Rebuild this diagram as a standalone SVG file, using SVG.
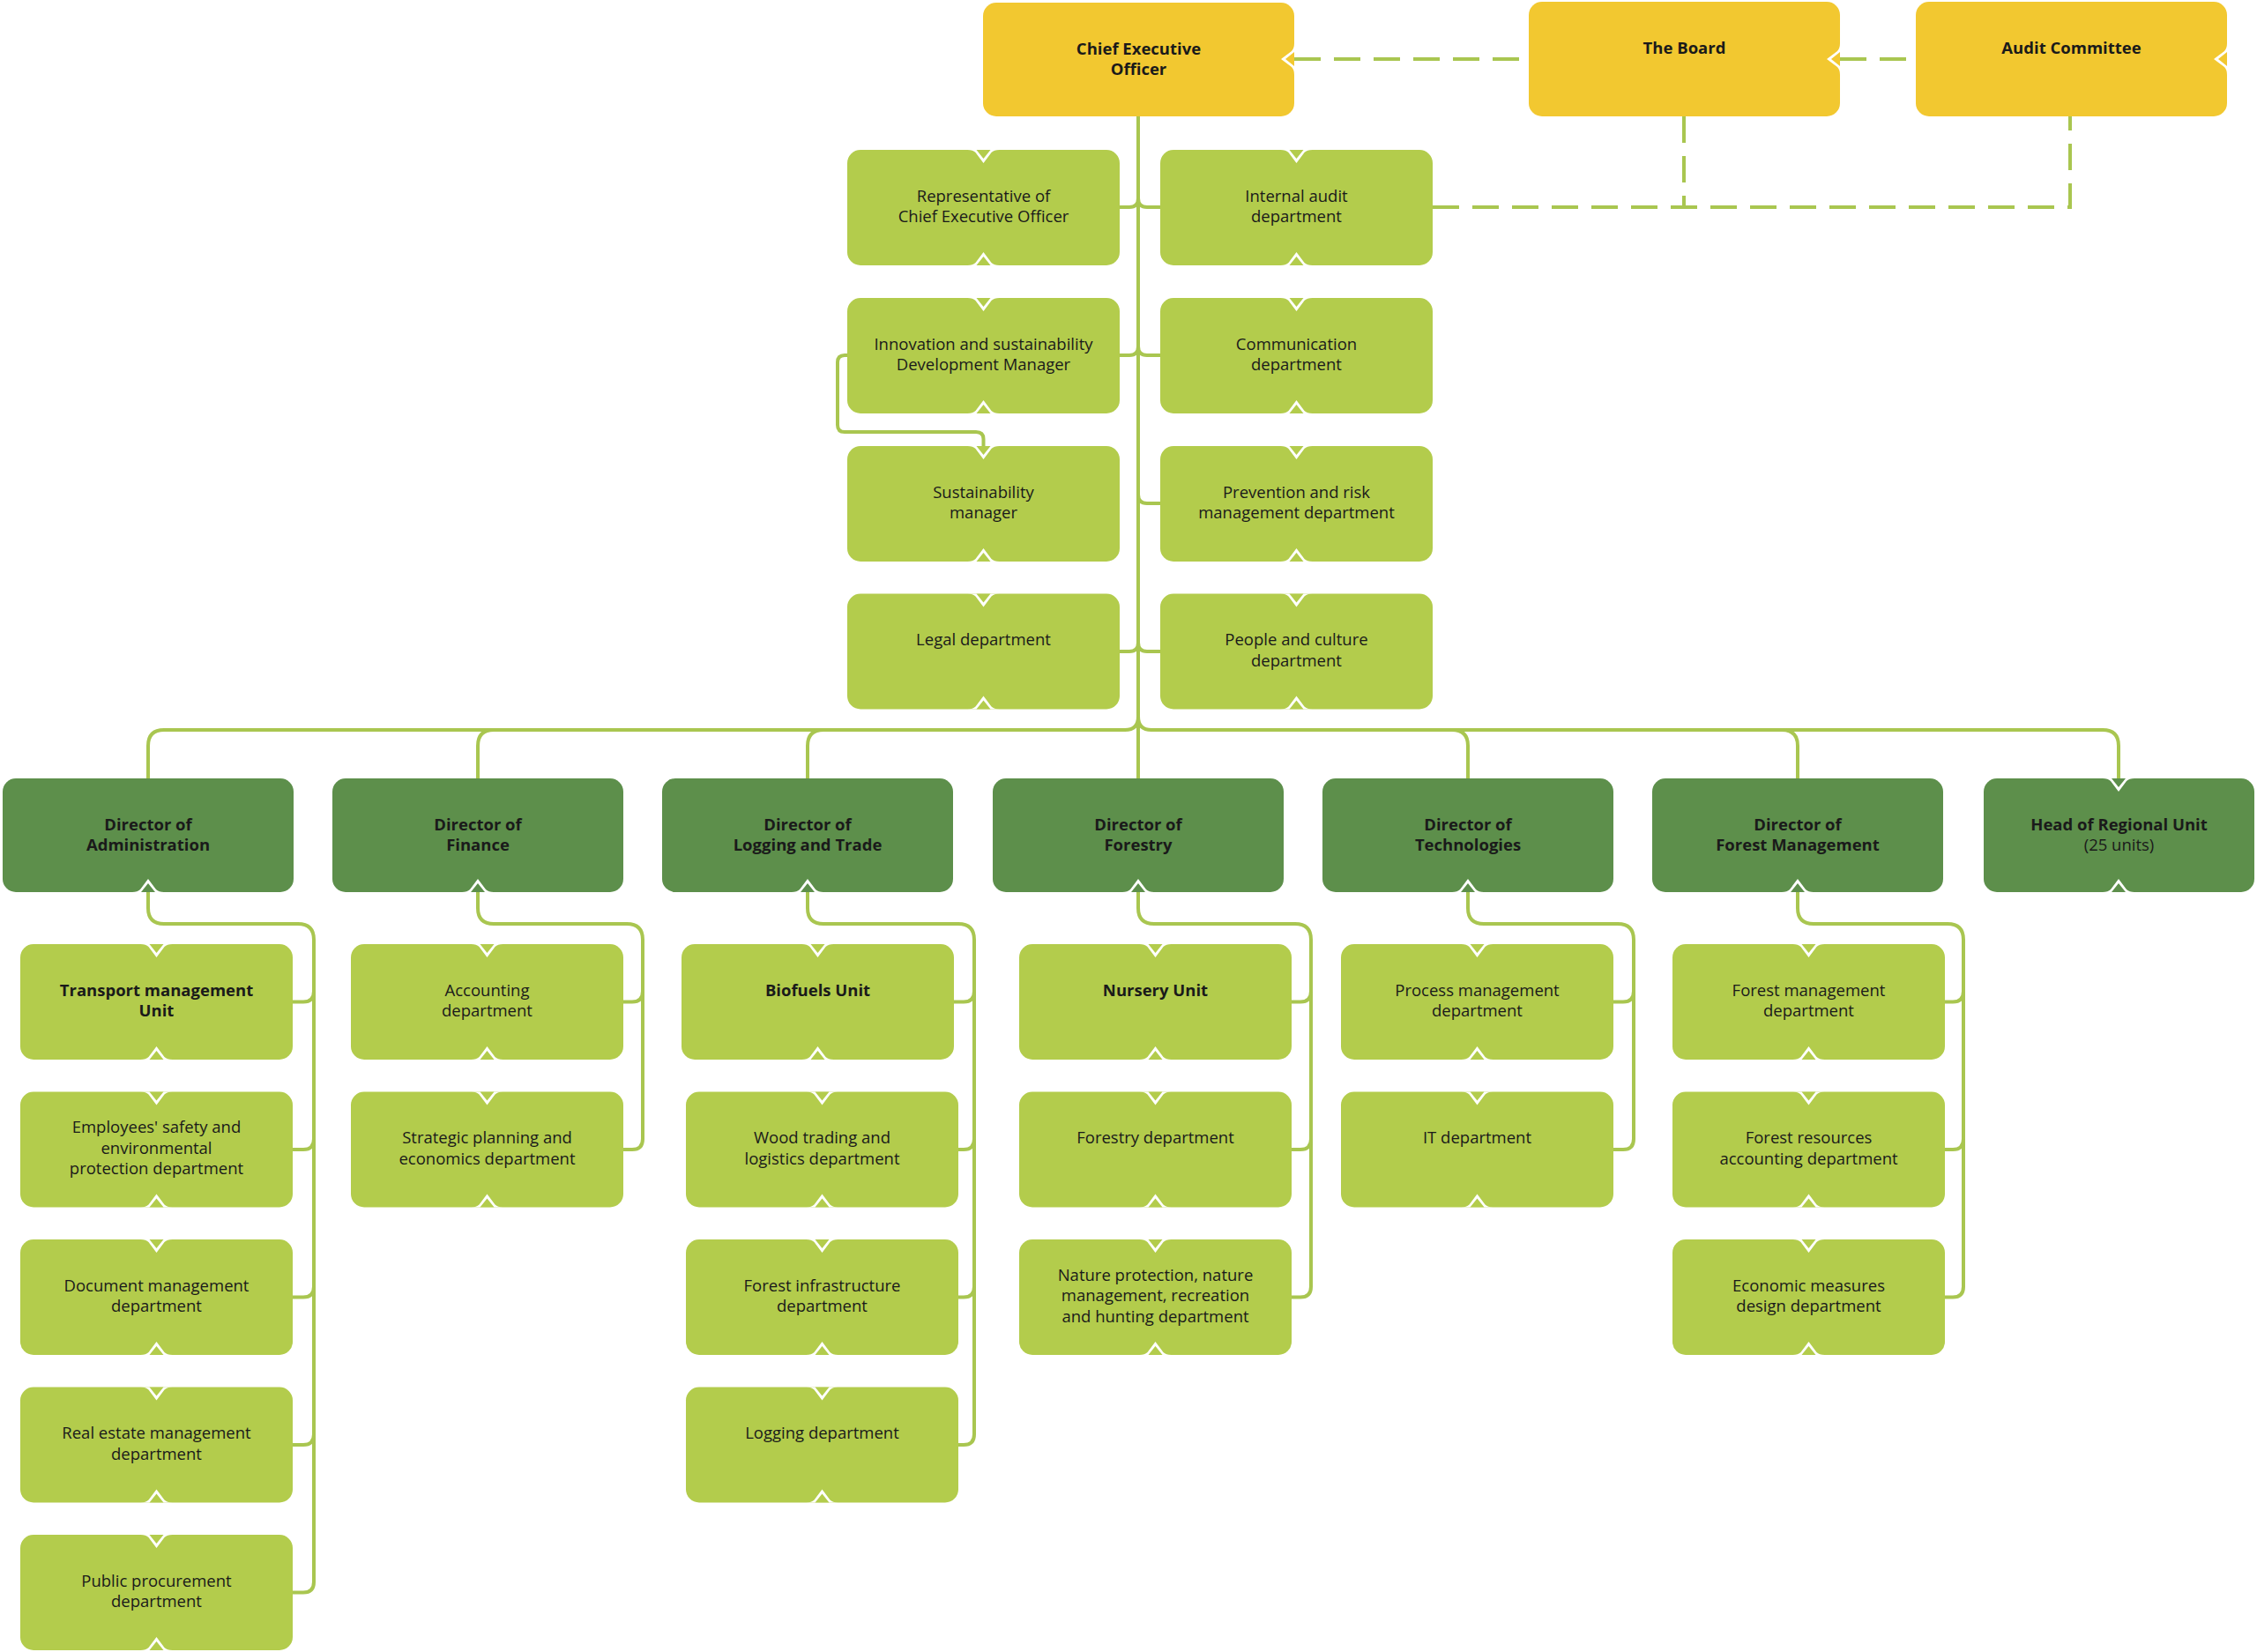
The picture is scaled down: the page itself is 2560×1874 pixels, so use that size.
<svg xmlns="http://www.w3.org/2000/svg" xmlns:xlink="http://www.w3.org/1999/xlink" width="2560" height="1874" viewBox="0 0 2560 1874">
<style>
.lg{fill:#B3CC4C}
.dg{fill:#5D8F4B}
.yl{fill:#F2C830}
.ulg{color:#B3CC4C}
.udg{color:#5D8F4B}
.uyl{color:#F2C830}
.cut{fill:#ffffff}
.c{fill:none;stroke:#A9C650;stroke-width:4;stroke-linejoin:round}
.d{fill:none;stroke:#A9C650;stroke-width:4;stroke-dasharray:30 15}
text{font-family:"Open Sans","Noto Sans",sans-serif;font-size:18.5px;fill:#1a1a1a;text-anchor:middle}
.b{font-weight:700}
</style>
<defs>
<g id="nT"><path class="cut" d="M-18,0 Q-12,0 -9,3 L0,15 L9,3 Q12,0 18,0 Z"/><path fill="currentColor" d="M-8,0 L8,0 L0,10 Z"/></g>
<g id="nB"><path class="cut" d="M-18,0 Q-12,0 -9,-3 L0,-15 L9,-3 Q12,0 18,0 Z"/><path fill="currentColor" d="M-8,0 L8,0 L0,-10 Z"/></g>
<g id="nR"><path class="cut" d="M0,-18 Q0,-12 -3,-9 L-15,0 L-3,9 Q0,12 0,18 Z"/><path fill="currentColor" d="M0,-8 L0,8 L-10,0 Z"/></g>
</defs>
<rect width="2560" height="1874" fill="#ffffff"/>

<g id="connectors">
<!-- dashed governance lines -->
<path class="d" d="M1468,67 H1734"/>
<path class="d" d="M2087,67 H2173"/>
<path class="d" d="M1625,235 H2348 V132"/>
<path class="d" d="M1910,132 V235"/>
<!-- CEO trunk -->
<path class="c" d="M1291,132 V883"/>
<!-- second level stubs -->
<path class="c" d="M1291,225 Q1291,235 1281,235 H1270"/>
<path class="c" d="M1291,225 Q1291,235 1301,235 H1316"/>
<path class="c" d="M1291,393 Q1291,403 1281,403 H1270"/>
<path class="c" d="M1291,393 Q1291,403 1301,403 H1316"/>
<path class="c" d="M1291,561 Q1291,571 1301,571 H1316"/>
<path class="c" d="M1291,729 Q1291,739 1281,739 H1270"/>
<path class="c" d="M1291,729 Q1291,739 1301,739 H1316"/>
<!-- innovation to sustainability -->
<path class="c" d="M961,403 H958 Q950,403 950,411 V482 Q950,490 958,490 H1107 Q1115.5,490 1115.5,498 V506"/>
<!-- bus to directors -->
<path class="c" d="M1291,813 Q1291,828 1276,828 H186 Q168,828 168,846 V883"/>
<path class="c" d="M560,828 Q542,828 542,846 V883"/>
<path class="c" d="M934,828 Q916,828 916,846 V883"/>
<path class="c" d="M1291,813 Q1291,828 1306,828 H2385 Q2403,828 2403,846 V883"/>
<path class="c" d="M1647,828 Q1665,828 1665,846 V883"/>
<path class="c" d="M2021,828 Q2039,828 2039,846 V883"/>
<!-- Administration -->
<path class="c" d="M168,1012 V1030 Q168,1048 186,1048 H338 Q356,1048 356,1066 V1794.5 Q356,1806.5 344,1806.5 H332"/>
<path class="c" d="M356,1124.5 Q356,1136.5 344,1136.5 H332"/>
<path class="c" d="M356,1292 Q356,1304 344,1304 H332"/>
<path class="c" d="M356,1459.5 Q356,1471.5 344,1471.5 H332"/>
<path class="c" d="M356,1627 Q356,1639 344,1639 H332"/>
<!-- Finance -->
<path class="c" d="M542,1012 V1030 Q542,1048 560,1048 H711 Q729,1048 729,1066 V1292 Q729,1304 717,1304 H707"/>
<path class="c" d="M729,1124.5 Q729,1136.5 717,1136.5 H707"/>
<!-- Logging and Trade -->
<path class="c" d="M916,1012 V1030 Q916,1048 934,1048 H1087 Q1105,1048 1105,1066 V1627 Q1105,1639 1093,1639 H1087"/>
<path class="c" d="M1105,1124.5 Q1105,1136.5 1093,1136.5 H1082"/>
<path class="c" d="M1105,1292 Q1105,1304 1093,1304 H1087"/>
<path class="c" d="M1105,1459.5 Q1105,1471.5 1093,1471.5 H1087"/>
<!-- Forestry -->
<path class="c" d="M1291,1012 V1030 Q1291,1048 1309,1048 H1469 Q1487,1048 1487,1066 V1459.5 Q1487,1471.5 1475,1471.5 H1465"/>
<path class="c" d="M1487,1124.5 Q1487,1136.5 1475,1136.5 H1465"/>
<path class="c" d="M1487,1292 Q1487,1304 1475,1304 H1465"/>
<!-- Technologies -->
<path class="c" d="M1665,1012 V1030 Q1665,1048 1683,1048 H1835 Q1853,1048 1853,1066 V1292 Q1853,1304 1841,1304 H1830"/>
<path class="c" d="M1853,1124.5 Q1853,1136.5 1841,1136.5 H1830"/>
<!-- Forest Management -->
<path class="c" d="M2039,1012 V1030 Q2039,1048 2057,1048 H2209 Q2227,1048 2227,1066 V1459.5 Q2227,1471.5 2215,1471.5 H2206"/>
<path class="c" d="M2227,1124.5 Q2227,1136.5 2215,1136.5 H2206"/>
<path class="c" d="M2227,1292 Q2227,1304 2215,1304 H2206"/>
</g>

<!-- top level -->
<g id="ceo"><rect class="yl" x="1115" y="3" width="353" height="129" rx="15"/><use href="#nR" x="1468" y="67" class="uyl"/>
<text class="b" x="1291.5" y="61.5">Chief Executive</text><text class="b" x="1291.5" y="85">Officer</text></g>
<g id="board"><rect class="yl" x="1734" y="2" width="353" height="130" rx="15"/><use href="#nR" x="2087" y="67" class="uyl"/>
<text class="b" x="1910.5" y="60.5">The Board</text></g>
<g id="audit-committee"><rect class="yl" x="2173" y="2" width="353" height="130" rx="15"/><use href="#nR" x="2526" y="67" class="uyl"/>
<text class="b" x="2349.5" y="60.5">Audit Committee</text></g>

<!-- second level -->
<g id="representative"><rect class="lg" x="961" y="170" width="309" height="131" rx="15"/><use href="#nT" x="1115.5" y="170" class="ulg"/><use href="#nB" x="1115.5" y="301" class="ulg"/>
<text x="1115.5" y="228.5">Representative of</text><text x="1115.5" y="252">Chief Executive Officer</text></g>
<g id="innovation"><rect class="lg" x="961" y="338" width="309" height="131" rx="15"/><use href="#nT" x="1115.5" y="338" class="ulg"/><use href="#nB" x="1115.5" y="469" class="ulg"/>
<text x="1115.5" y="396.5">Innovation and sustainability</text><text x="1115.5" y="420">Development Manager</text></g>
<g id="sustainability"><rect class="lg" x="961" y="506" width="309" height="131" rx="15"/><use href="#nT" x="1115.5" y="506" class="ulg"/><use href="#nB" x="1115.5" y="637" class="ulg"/>
<text x="1115.5" y="564.5">Sustainability</text><text x="1115.5" y="588">manager</text></g>
<g id="legal"><rect class="lg" x="961" y="673.5" width="309" height="131" rx="15"/><use href="#nT" x="1115.5" y="673.5" class="ulg"/><use href="#nB" x="1115.5" y="804.5" class="ulg"/>
<text x="1115.5" y="732">Legal department</text></g>
<g id="internal-audit"><rect class="lg" x="1316" y="170" width="309" height="131" rx="15"/><use href="#nT" x="1470.5" y="170" class="ulg"/><use href="#nB" x="1470.5" y="301" class="ulg"/>
<text x="1470.5" y="228.5">Internal audit</text><text x="1470.5" y="252">department</text></g>
<g id="communication"><rect class="lg" x="1316" y="338" width="309" height="131" rx="15"/><use href="#nT" x="1470.5" y="338" class="ulg"/><use href="#nB" x="1470.5" y="469" class="ulg"/>
<text x="1470.5" y="396.5">Communication</text><text x="1470.5" y="420">department</text></g>
<g id="prevention"><rect class="lg" x="1316" y="506" width="309" height="131" rx="15"/><use href="#nT" x="1470.5" y="506" class="ulg"/><use href="#nB" x="1470.5" y="637" class="ulg"/>
<text x="1470.5" y="564.5">Prevention and risk</text><text x="1470.5" y="588">management department</text></g>
<g id="people"><rect class="lg" x="1316" y="673.5" width="309" height="131" rx="15"/><use href="#nT" x="1470.5" y="673.5" class="ulg"/><use href="#nB" x="1470.5" y="804.5" class="ulg"/>
<text x="1470.5" y="732">People and culture</text><text x="1470.5" y="755.5">department</text></g>

<!-- directors -->
<g id="dir-admin"><rect class="dg" x="3" y="883" width="330" height="129" rx="15"/><use href="#nB" x="168" y="1012" class="udg"/>
<text class="b" x="168" y="941.5">Director of</text><text class="b" x="168" y="965">Administration</text></g>
<g id="dir-finance"><rect class="dg" x="377" y="883" width="330" height="129" rx="15"/><use href="#nB" x="542" y="1012" class="udg"/>
<text class="b" x="542" y="941.5">Director of</text><text class="b" x="542" y="965">Finance</text></g>
<g id="dir-logging"><rect class="dg" x="751" y="883" width="330" height="129" rx="15"/><use href="#nB" x="916" y="1012" class="udg"/>
<text class="b" x="916" y="941.5">Director of</text><text class="b" x="916" y="965">Logging and Trade</text></g>
<g id="dir-forestry"><rect class="dg" x="1126" y="883" width="330" height="129" rx="15"/><use href="#nB" x="1291" y="1012" class="udg"/>
<text class="b" x="1291" y="941.5">Director of</text><text class="b" x="1291" y="965">Forestry</text></g>
<g id="dir-tech"><rect class="dg" x="1500" y="883" width="330" height="129" rx="15"/><use href="#nB" x="1665" y="1012" class="udg"/>
<text class="b" x="1665" y="941.5">Director of</text><text class="b" x="1665" y="965">Technologies</text></g>
<g id="dir-forest-mgmt"><rect class="dg" x="1874" y="883" width="330" height="129" rx="15"/><use href="#nB" x="2039" y="1012" class="udg"/>
<text class="b" x="2039" y="941.5">Director of</text><text class="b" x="2039" y="965">Forest Management</text></g>
<g id="head-regional"><rect class="dg" x="2250" y="883" width="307" height="129" rx="15"/><use href="#nT" x="2403" y="883" class="udg"/><use href="#nB" x="2403" y="1012" class="udg"/>
<text class="b" x="2403.5" y="941.5">Head of Regional Unit</text><text x="2403.5" y="965">(25 units)</text></g>

<!-- Administration children -->
<g id="transport"><rect class="lg" x="23" y="1071" width="309" height="131" rx="15"/><use href="#nT" x="177.5" y="1071" class="ulg"/><use href="#nB" x="177.5" y="1202" class="ulg"/>
<text class="b" x="177.5" y="1129.5">Transport management</text><text class="b" x="177.5" y="1153">Unit</text></g>
<g id="employees-safety"><rect class="lg" x="23" y="1238.5" width="309" height="131" rx="15"/><use href="#nT" x="177.5" y="1238.5" class="ulg"/><use href="#nB" x="177.5" y="1369.5" class="ulg"/>
<text x="177.5" y="1285">Employees' safety and</text><text x="177.5" y="1308.5">environmental</text><text x="177.5" y="1332">protection department</text></g>
<g id="document"><rect class="lg" x="23" y="1406" width="309" height="131" rx="15"/><use href="#nT" x="177.5" y="1406" class="ulg"/><use href="#nB" x="177.5" y="1537" class="ulg"/>
<text x="177.5" y="1464.5">Document management</text><text x="177.5" y="1488">department</text></g>
<g id="real-estate"><rect class="lg" x="23" y="1573.5" width="309" height="131" rx="15"/><use href="#nT" x="177.5" y="1573.5" class="ulg"/><use href="#nB" x="177.5" y="1704.5" class="ulg"/>
<text x="177.5" y="1632">Real estate management</text><text x="177.5" y="1655.5">department</text></g>
<g id="procurement"><rect class="lg" x="23" y="1741" width="309" height="131" rx="15"/><use href="#nT" x="177.5" y="1741" class="ulg"/><use href="#nB" x="177.5" y="1872" class="ulg"/>
<text x="177.5" y="1799.5">Public procurement</text><text x="177.5" y="1823">department</text></g>

<!-- Finance children -->
<g id="accounting"><rect class="lg" x="398" y="1071" width="309" height="131" rx="15"/><use href="#nT" x="552.5" y="1071" class="ulg"/><use href="#nB" x="552.5" y="1202" class="ulg"/>
<text x="552.5" y="1129.5">Accounting</text><text x="552.5" y="1153">department</text></g>
<g id="strategic"><rect class="lg" x="398" y="1238.5" width="309" height="131" rx="15"/><use href="#nT" x="552.5" y="1238.5" class="ulg"/><use href="#nB" x="552.5" y="1369.5" class="ulg"/>
<text x="552.5" y="1297">Strategic planning and</text><text x="552.5" y="1320.5">economics department</text></g>

<!-- Logging children -->
<g id="biofuels"><rect class="lg" x="773" y="1071" width="309" height="131" rx="15"/><use href="#nT" x="927.5" y="1071" class="ulg"/><use href="#nB" x="927.5" y="1202" class="ulg"/>
<text class="b" x="927.5" y="1129.5">Biofuels Unit</text></g>
<g id="wood-trading"><rect class="lg" x="778" y="1238.5" width="309" height="131" rx="15"/><use href="#nT" x="932.5" y="1238.5" class="ulg"/><use href="#nB" x="932.5" y="1369.5" class="ulg"/>
<text x="932.5" y="1297">Wood trading and</text><text x="932.5" y="1320.5">logistics department</text></g>
<g id="forest-infrastructure"><rect class="lg" x="778" y="1406" width="309" height="131" rx="15"/><use href="#nT" x="932.5" y="1406" class="ulg"/><use href="#nB" x="932.5" y="1537" class="ulg"/>
<text x="932.5" y="1464.5">Forest infrastructure</text><text x="932.5" y="1488">department</text></g>
<g id="logging"><rect class="lg" x="778" y="1573.5" width="309" height="131" rx="15"/><use href="#nT" x="932.5" y="1573.5" class="ulg"/><use href="#nB" x="932.5" y="1704.5" class="ulg"/>
<text x="932.5" y="1632">Logging department</text></g>

<!-- Forestry children -->
<g id="nursery"><rect class="lg" x="1156" y="1071" width="309" height="131" rx="15"/><use href="#nT" x="1310.5" y="1071" class="ulg"/><use href="#nB" x="1310.5" y="1202" class="ulg"/>
<text class="b" x="1310.5" y="1129.5">Nursery Unit</text></g>
<g id="forestry-dept"><rect class="lg" x="1156" y="1238.5" width="309" height="131" rx="15"/><use href="#nT" x="1310.5" y="1238.5" class="ulg"/><use href="#nB" x="1310.5" y="1369.5" class="ulg"/>
<text x="1310.5" y="1297">Forestry department</text></g>
<g id="nature-protection"><rect class="lg" x="1156" y="1406" width="309" height="131" rx="15"/><use href="#nT" x="1310.5" y="1406" class="ulg"/><use href="#nB" x="1310.5" y="1537" class="ulg"/>
<text x="1310.5" y="1452.5">Nature protection, nature</text><text x="1310.5" y="1476">management, recreation</text><text x="1310.5" y="1499.5">and hunting department</text></g>

<!-- Technologies children -->
<g id="process-mgmt"><rect class="lg" x="1521" y="1071" width="309" height="131" rx="15"/><use href="#nT" x="1675.5" y="1071" class="ulg"/><use href="#nB" x="1675.5" y="1202" class="ulg"/>
<text x="1675.5" y="1129.5">Process management</text><text x="1675.5" y="1153">department</text></g>
<g id="it"><rect class="lg" x="1521" y="1238.5" width="309" height="131" rx="15"/><use href="#nT" x="1675.5" y="1238.5" class="ulg"/><use href="#nB" x="1675.5" y="1369.5" class="ulg"/>
<text x="1675.5" y="1297">IT department</text></g>

<!-- Forest Management children -->
<g id="forest-mgmt-dept"><rect class="lg" x="1897" y="1071" width="309" height="131" rx="15"/><use href="#nT" x="2051.5" y="1071" class="ulg"/><use href="#nB" x="2051.5" y="1202" class="ulg"/>
<text x="2051.5" y="1129.5">Forest management</text><text x="2051.5" y="1153">department</text></g>
<g id="forest-resources"><rect class="lg" x="1897" y="1238.5" width="309" height="131" rx="15"/><use href="#nT" x="2051.5" y="1238.5" class="ulg"/><use href="#nB" x="2051.5" y="1369.5" class="ulg"/>
<text x="2051.5" y="1297">Forest resources</text><text x="2051.5" y="1320.5">accounting department</text></g>
<g id="economic-measures"><rect class="lg" x="1897" y="1406" width="309" height="131" rx="15"/><use href="#nT" x="2051.5" y="1406" class="ulg"/><use href="#nB" x="2051.5" y="1537" class="ulg"/>
<text x="2051.5" y="1464.5">Economic measures</text><text x="2051.5" y="1488">design department</text></g>
</svg>
